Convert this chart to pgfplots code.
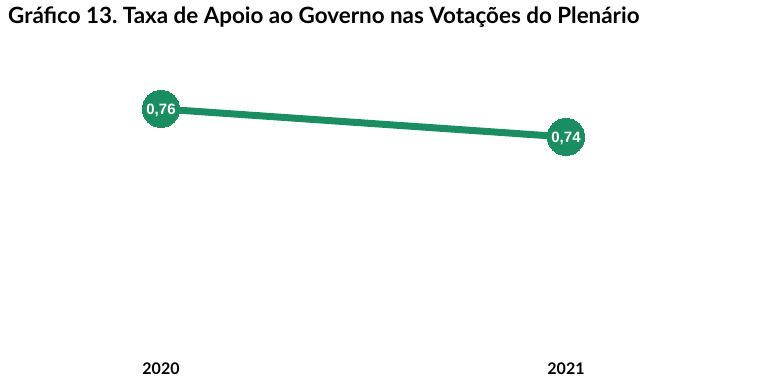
\documentclass[border=0pt]{standalone}
\usepackage{pgfplots}
\pgfplotsset{compat=1.18}
\usepackage{fontspec}
\setmainfont{Lato}
\newfontfamily\arialb{Liberation Sans}
\definecolor{grn}{RGB}{26,142,97}
\frenchspacing
\begin{document}
\begin{tikzpicture}
\path[use as bounding box] (0,0) rectangle (768pt,384pt);
\node[anchor=base west, inner sep=0pt, font=\fontsize{22.4}{25}\selectfont\bfseries] at (8pt,360pt) {Gráfico 13. Taxa de Apoio ao Governo nas Votações do Plenário};
\begin{axis}[
  anchor=south west, at={(161pt,32pt)},
  scale only axis, width=405pt, height=302pt,
  xmin=0, xmax=1, ymin=0.5864, ymax=0.8021,
  axis line style={draw=none}, tick style={draw=none},
  ytick=\empty,
  xtick={0,1}, xticklabels={2020,2021},
  xticklabel style={anchor=base, yshift=-22pt, font=\fontsize{16}{18}\selectfont\bfseries},
  clip=false,
]
\addplot[color=grn, line width=7pt, mark=*, mark size=18.5pt, mark options={fill=grn, draw=grn, line width=0pt},
  nodes near coords, point meta=explicit symbolic,
  every node near coord/.append style={anchor=base, yshift=-6pt, text=white, font=\arialb\fontsize{15}{16}\selectfont\bfseries}]
  table[meta=lab] {
  x y lab
  0 0.76 0,76
  1 0.74 0,74
  };
\end{axis}
\end{tikzpicture}
\end{document}
